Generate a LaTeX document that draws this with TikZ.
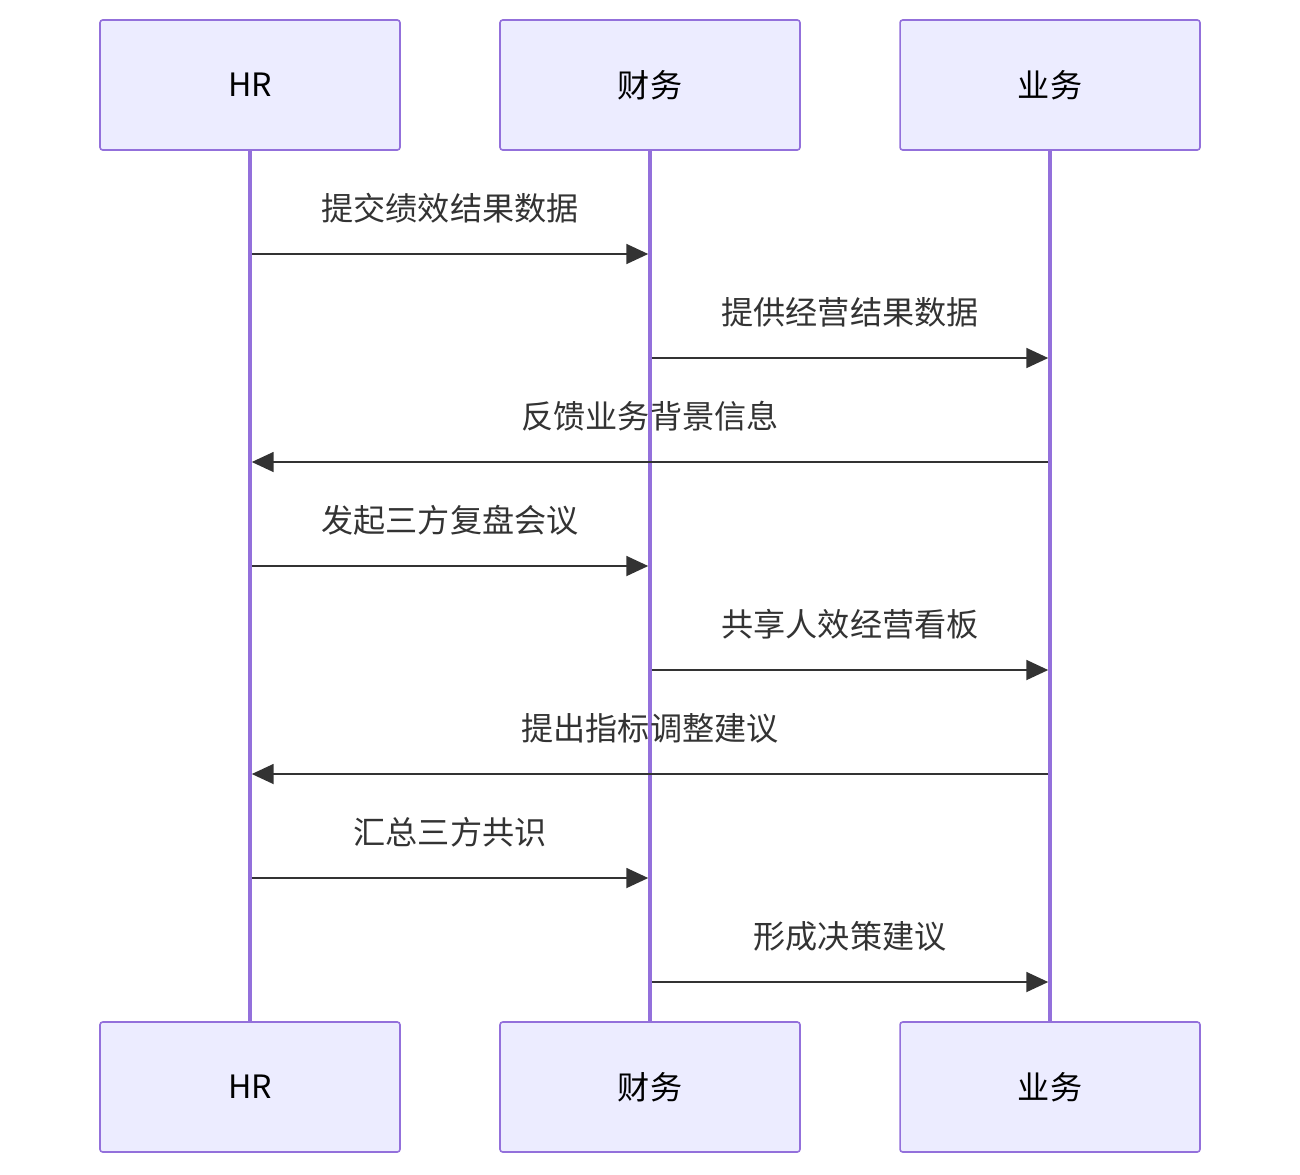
\documentclass[tikz,border=0pt]{standalone}
\usepackage{fontspec}
\setmainfont{Noto Sans CJK SC}
\usepackage{xcolor}
\usetikzlibrary{arrows.meta,positioning}
\definecolor{actfill}{HTML}{ECECFF}
\definecolor{actline}{HTML}{9370DB}
\definecolor{msgline}{HTML}{333333}

\begin{document}
\begin{tikzpicture}[
  x=0.02cm, y=-0.02cm,
  actor/.style={rectangle, rounded corners=1.5pt, draw=actline, line width=0.9pt, fill=actfill,
                minimum width=6cm, minimum height=2.6cm, font=\fontsize{18.3}{21}\selectfont, text=black},
  life/.style={draw=actline, line width=1.9pt},
  msg/.style={draw=msgline, line width=1.3pt, -{Triangle[length=12.5pt, width=11.3pt]},
              shorten <=1pt, shorten >=1pt},
  lbl/.style={font=\fontsize{18.3}{21}\selectfont, text=msgline, yshift=0.92cm},
]
\useasboundingbox[fill=white] (0,0) rectangle (1300,1174);
% participants
\node[actor] (hrT) at (250,85) {HR};
\node[actor] (fiT) at (650,85) {财务};
\node[actor] (buT) at (1050,85) {业务};
\node[actor] (hrB) at (250,1087) {HR};
\node[actor] (fiB) at (650,1087) {财务};
\node[actor] (buB) at (1050,1087) {业务};
% lifelines
\draw[life] (hrT) -- (hrB);
\draw[life] (fiT) -- (fiB);
\draw[life] (buT) -- (buB);
% message rows
\coordinate (r1) at (0,254);
\coordinate (r2) at (0,358);
\coordinate (r3) at (0,462);
\coordinate (r4) at (0,566);
\coordinate (r5) at (0,670);
\coordinate (r6) at (0,774);
\coordinate (r7) at (0,878);
\coordinate (r8) at (0,982);
\draw[msg] (hrT |- r1) -- node[lbl] {提交绩效结果数据} (fiT |- r1);
\draw[msg] (fiT |- r2) -- node[lbl] {提供经营结果数据} (buT |- r2);
\draw[msg] (buT |- r3) -- node[lbl] {反馈业务背景信息} (hrT |- r3);
\draw[msg] (hrT |- r4) -- node[lbl] {发起三方复盘会议} (fiT |- r4);
\draw[msg] (fiT |- r5) -- node[lbl] {共享人效经营看板} (buT |- r5);
\draw[msg] (buT |- r6) -- node[lbl] {提出指标调整建议} (hrT |- r6);
\draw[msg] (hrT |- r7) -- node[lbl] {汇总三方共识} (fiT |- r7);
\draw[msg] (fiT |- r8) -- node[lbl] {形成决策建议} (buT |- r8);
\end{tikzpicture}
\end{document}
